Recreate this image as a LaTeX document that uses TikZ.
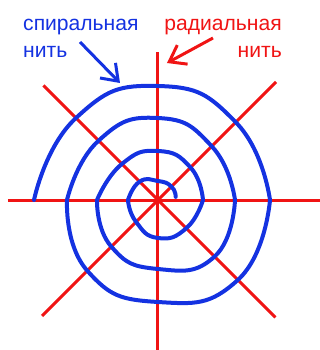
\documentclass[tikz,border=0pt]{standalone}
\usepackage{fontspec}
\setmainfont{Liberation Sans}
\usetikzlibrary{arrows.meta,positioning}
\definecolor{webred}{RGB}{240,20,20}
\definecolor{webblue}{RGB}{20,50,225}

\begin{document}
\begin{tikzpicture}[x=0.3mm,y=0.3mm,
  radial/.style={draw=webred,line width=0.9mm},
  spiral/.style={draw=webblue,line width=1.2mm,line join=round,line cap=round},
  pointer/.style={line width=0.9mm,-{Straight Barb[length=4.5mm,width=6.5mm]}},
  lbl/.style={font=\fontsize{18}{21}\selectfont,inner sep=0pt}]
  \useasboundingbox (-158,-150) rectangle (162,200);
  \draw[radial] (-150,0) -- (162,0);
  \draw[radial] (0,-150) -- (0,148);
  \foreach \ang/\len in {45/167,135/162,225/164,315/166}
    \draw[radial] (0,0) -- (\ang:\len);
  \draw[spiral]
    plot[smooth,tension=0.9] coordinates {(10:18) (45:19) (90:19) (135:26) (180:30)}
    -- plot[smooth,tension=0.9] coordinates {(180:30) (225:31) (270:38) (315:40) (360:45)}
    -- plot[smooth,tension=0.9] coordinates {(0:45) (45:46) (90:49) (135:51) (180:61)}
    -- plot[smooth,tension=0.9] coordinates {(180:61) (225:66) (270:69) (315:80) (360:77)}
    -- plot[smooth,tension=0.9] coordinates {(0:77) (45:76) (90:82) (135:84) (180:91)}
    -- plot[smooth,tension=0.9] coordinates {(180:91) (225:100) (270:102) (315:113) (360:112)}
    -- plot[smooth,tension=0.9] coordinates {(0:112) (45:110) (90:114) (135:116) (180:124)};
  \node[lbl,text=webblue,anchor=base west] (spiralWord) at (-135,170) {спиральная};
  \node[lbl,text=webblue,anchor=base west] (spiralThread) at ([yshift=-8.1mm]spiralWord.base west) {нить};
  \node[lbl,text=webred,anchor=base east] (radialWord) at (124,170) {радиальная};
  \node[lbl,text=webred,anchor=base east] (radialThread) at ([yshift=-8.1mm]radialWord.base east) {нить};
  \coordinate (spiralTail) at (-78,158);
  \coordinate (spiralHit) at (-38,117);
  \coordinate (radialTail) at (55,162);
  \coordinate (radialHit) at (9,137);
  \draw[pointer,webblue] (spiralTail) -- (spiralHit);
  \draw[pointer,webred] (radialTail) -- (radialHit);
\end{tikzpicture}
\end{document}
